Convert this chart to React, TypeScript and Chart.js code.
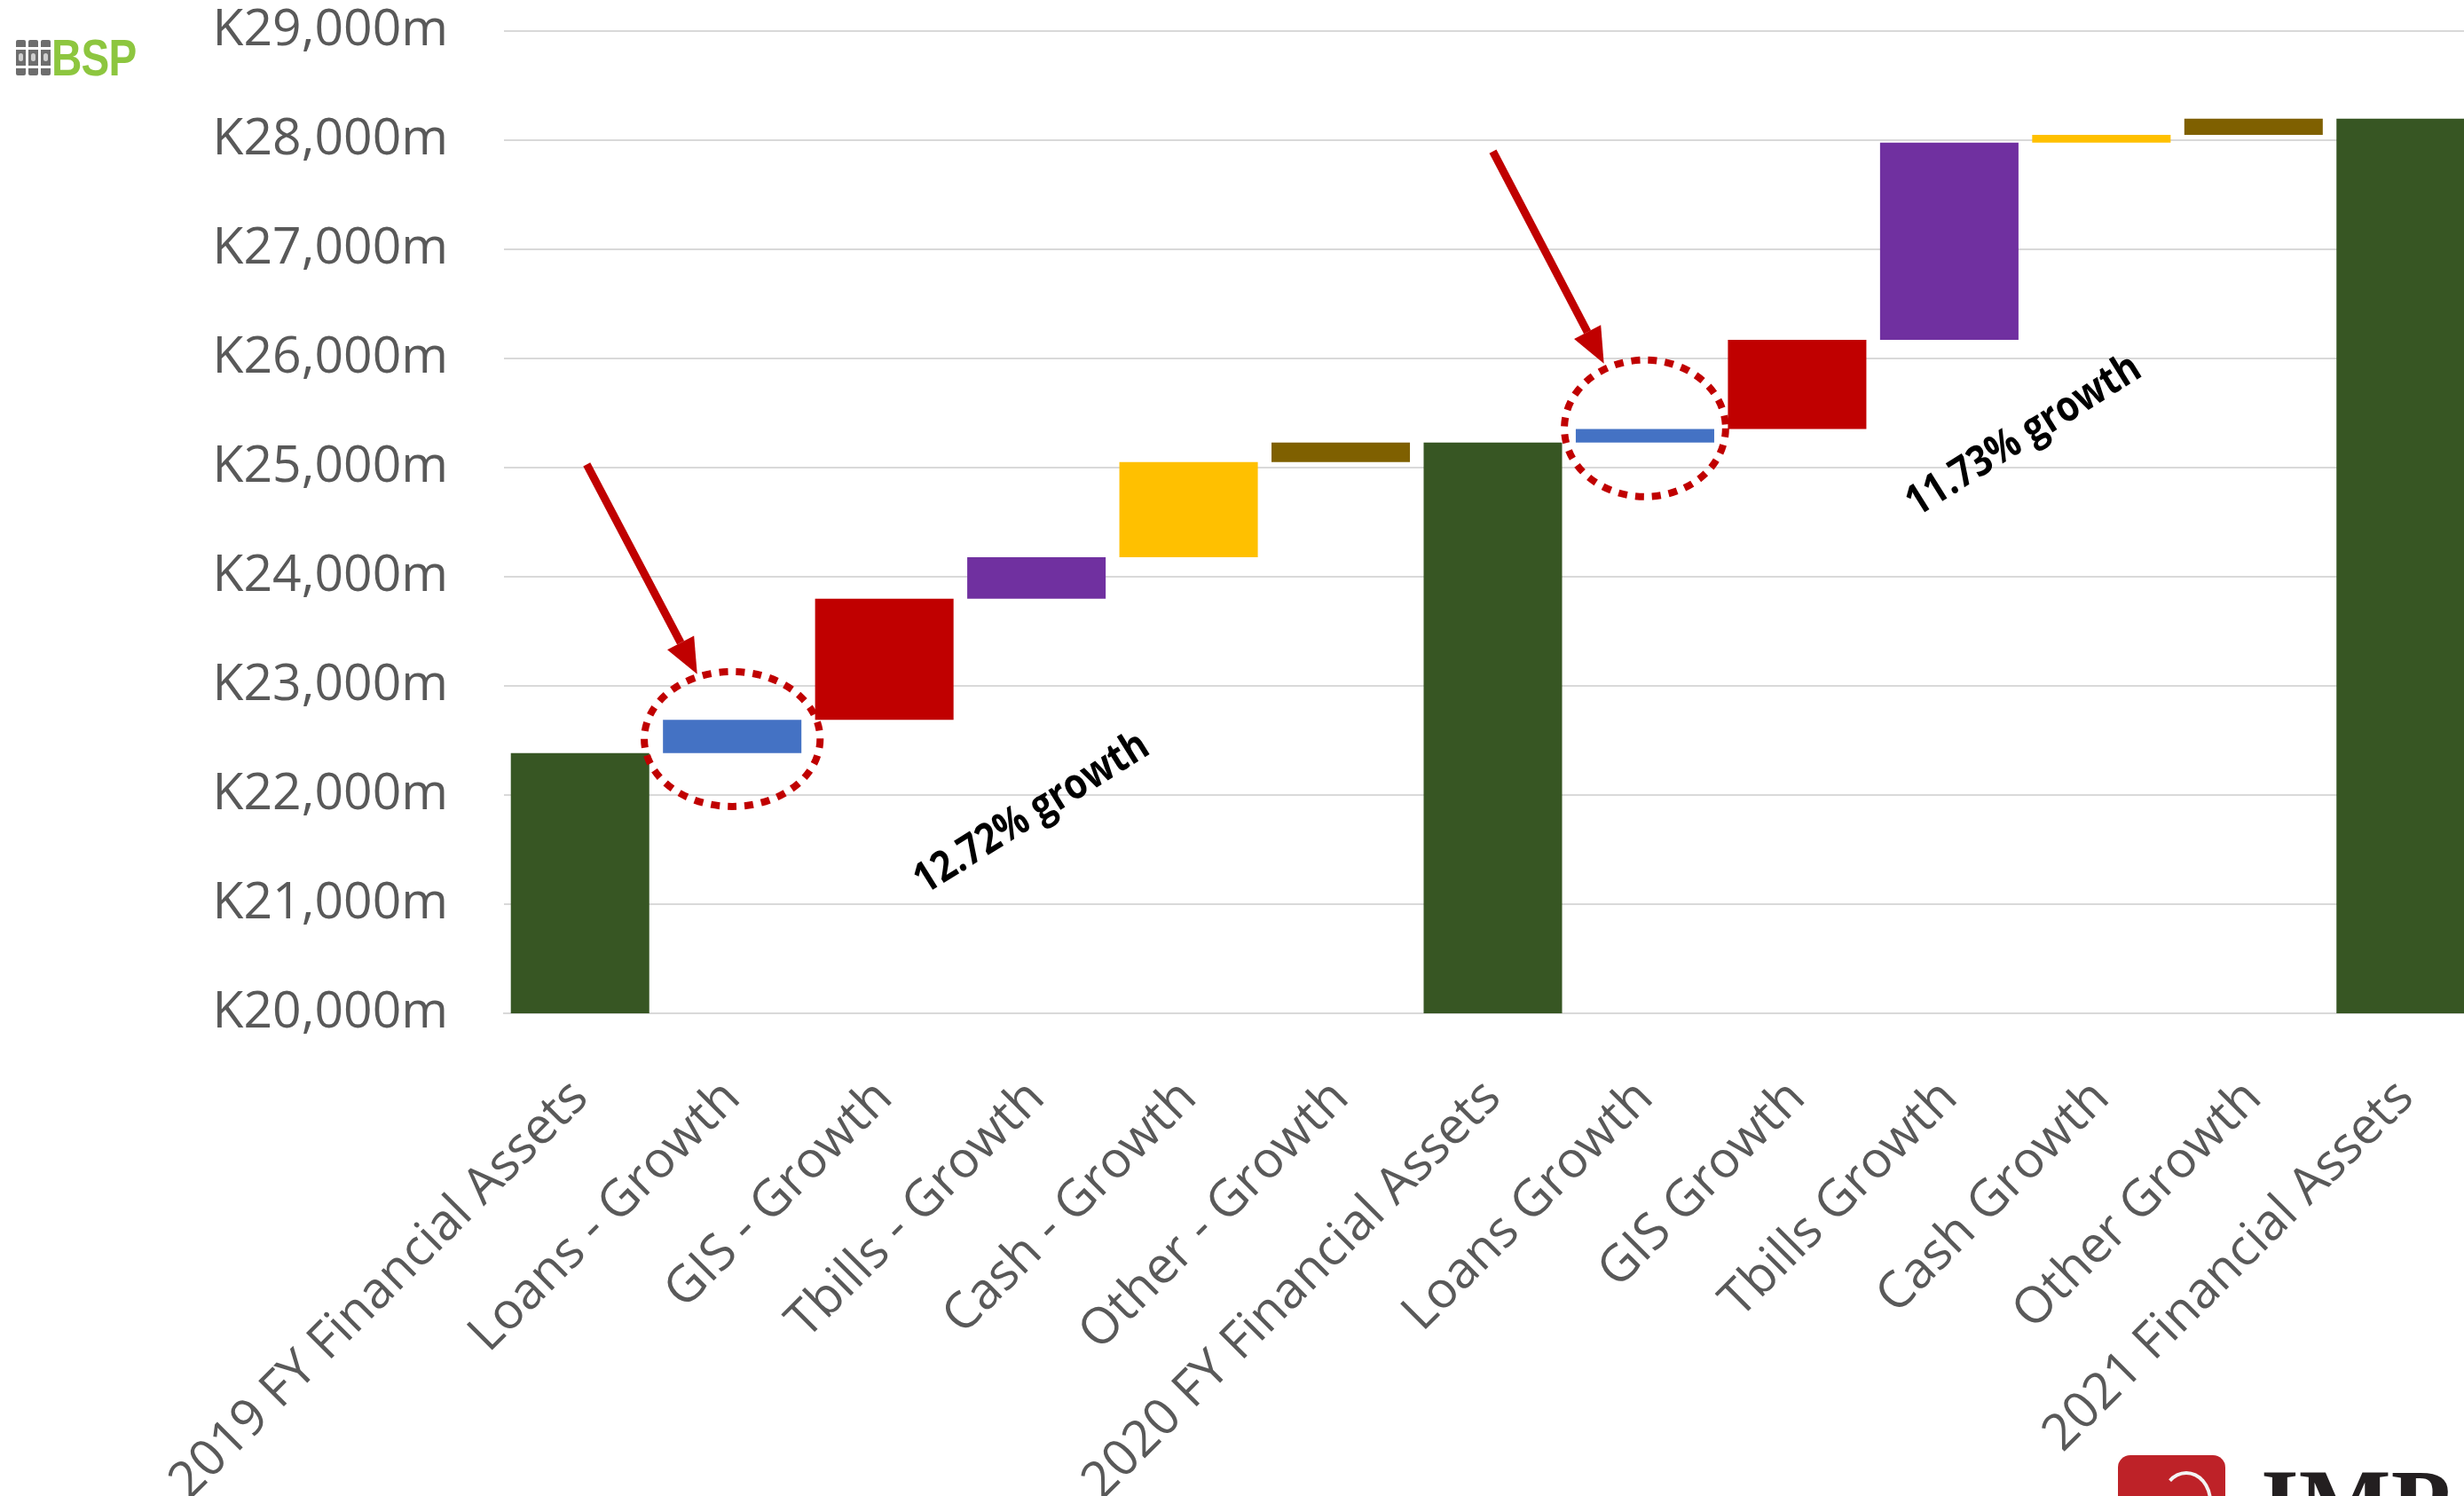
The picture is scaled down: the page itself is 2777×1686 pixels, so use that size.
import React, { useEffect, useRef } from "react";
import { Chart, registerables } from "chart.js";

Chart.register(...registerables);

// ---------------- data ----------------
const categories = [
  "2019 FY Financial Assets",
  "Loans - Growth",
  "GIS - Growth",
  "Tbills - Growth",
  "Cash - Growth",
  "Other - Growth",
  "2020 FY Financial Assets",
  "Loans Growth",
  "GIS Growth",
  "Tbills Growth",
  "Cash Growth",
  "Other Growth",
  "2021 Financial Assets",
];

// Values in K millions. Totals are flagged and computed as running sums.
const openingAssets = 22385;
const changes = [0, 305, 1109, 379, 873, 178, 0, 125, 816, 1807, 72, 149, 0];
const isTotal = [true, false, false, false, false, false, true, false, false, false, false, false, true];

const barColors = [
  "#375623", "#4472C4", "#C00000", "#7030A0", "#FFC000", "#7F6000",
  "#375623", "#4472C4", "#C00000", "#7030A0", "#FFC000", "#7F6000",
  "#375623",
];

const yMin = 20000;
const yMax = 29000;
const yStep = 1000;

const growthLabels = ["12.72% growth", "11.73% growth"];

// annotation anchors in data units (category index, value)
const growthLabelAnchors = [
  { x: 2.97, y: 21830 },
  { x: 9.49, y: 25290 },
];
const highlightEllipses = [
  { cx: 1, cy: 22513, rx: 0.578, ry: 618 },
  { cx: 7, cy: 25360, rx: 0.53, ry: 626 },
];
const arrows = [
  { x0: 0.044, y0: 25029, x1: 0.77, y1: 23107 },
  { x0: 6.0, y0: 27898, x1: 6.73, y1: 25954 },
];

// -------------- build floating bars --------------
function buildRanges(): [number, number][] {
  const out: [number, number][] = [];
  let running = openingAssets;
  for (let i = 0; i < categories.length; i++) {
    if (isTotal[i]) {
      out.push([0, running]);
    } else {
      out.push([running, running + changes[i]]);
      running += changes[i];
    }
  }
  return out;
}

const annotationPlugin = {
  id: "growthAnnotations",
  afterDatasetsDraw(chart: any) {
    const { ctx } = chart;
    const x = chart.scales.x;
    const y = chart.scales.y;
    ctx.save();

    // dotted ellipses
    for (const e of highlightEllipses) {
      const cx = x.getPixelForValue(e.cx);
      const cy = y.getPixelForValue(e.cy);
      const rx = Math.abs(x.getPixelForValue(e.cx + e.rx) - cx);
      const ry = Math.abs(y.getPixelForValue(e.cy + e.ry) - cy);
      ctx.beginPath();
      ctx.ellipse(cx, cy, rx, ry, 0, 0, Math.PI * 2);
      ctx.setLineDash([10, 9]);
      ctx.lineWidth = 8;
      ctx.strokeStyle = "#C00000";
      ctx.stroke();
    }
    ctx.setLineDash([]);

    // arrows
    for (const a of arrows) {
      const px0 = x.getPixelForValue(a.x0);
      const py0 = y.getPixelForValue(a.y0);
      const px1 = x.getPixelForValue(a.x1);
      const py1 = y.getPixelForValue(a.y1);
      const ang = Math.atan2(py1 - py0, px1 - px0);
      const headLen = 40;
      const headHalf = 17;
      const bx = px1 - headLen * Math.cos(ang);
      const by = py1 - headLen * Math.sin(ang);
      ctx.beginPath();
      ctx.moveTo(px0, py0);
      ctx.lineTo(bx, by);
      ctx.lineWidth = 9;
      ctx.strokeStyle = "#C00000";
      ctx.lineCap = "butt";
      ctx.stroke();
      ctx.beginPath();
      ctx.moveTo(px1, py1);
      ctx.lineTo(bx + headHalf * Math.sin(ang), by - headHalf * Math.cos(ang));
      ctx.lineTo(bx - headHalf * Math.sin(ang), by + headHalf * Math.cos(ang));
      ctx.closePath();
      ctx.fillStyle = "#C00000";
      ctx.fill();
    }

    // rotated growth labels
    growthLabels.forEach((label, i) => {
      const p = growthLabelAnchors[i];
      const px = x.getPixelForValue(p.x);
      const py = y.getPixelForValue(p.y);
      ctx.save();
      ctx.translate(px, py);
      ctx.rotate((-32 * Math.PI) / 180);
      ctx.scale(0.86, 1);
      ctx.font = "bold 48px 'Open Sans'";
      ctx.fillStyle = "#000000";
      ctx.textAlign = "center";
      ctx.textBaseline = "middle";
      ctx.fillText(label, 0, 0);
      ctx.restore();
    });

    ctx.restore();
  },
};

export default function App() {
  const canvasRef = useRef<HTMLCanvasElement | null>(null);

  useEffect(() => {
    if (!canvasRef.current) return;
    const ranges = buildRanges();
    const chart = new Chart(canvasRef.current, {
      type: "bar",
      data: {
        labels: categories,
        datasets: [
          {
            data: ranges as any,
            backgroundColor: barColors,
            borderWidth: 0,
            barPercentage: 0.91,
            categoryPercentage: 1.0,
          },
        ],
      },
      options: {
        responsive: false,
        animation: false,
        layout: { padding: { top: 35, right: 3, left: 0, bottom: 0 } },
        plugins: {
          legend: { display: false },
          tooltip: { enabled: false },
        },
        scales: {
          x: {
            grid: {
              display: true,
              drawOnChartArea: false,
              drawTicks: true,
              tickLength: 62,
              color: "transparent",
              tickColor: "transparent",
            },
            border: { display: true, color: "#d9d9d9", width: 2 },
            ticks: {
              autoSkip: false,
              minRotation: 45,
              maxRotation: 45,
              padding: 0,
              color: "#595959",
              font: { family: "'Open Sans'", size: 57 },
            },
            afterFit(scale: any) {
              scale.height = 544;
            },
          },
          y: {
            min: yMin,
            max: yMax,
            grid: {
              color: "#d9d9d9",
              lineWidth: 2,
              drawTicks: true,
              tickLength: 63,
              tickColor: "transparent",
            },
            border: { display: false },
            ticks: {
              stepSize: yStep,
              padding: 0,
              color: "#595959",
              font: { family: "'Open Sans'", size: 57 },
              callback: (v: any) => "K" + Number(v).toLocaleString("en-US") + "m",
            },
            afterFit(scale: any) {
              scale.width = 568;
            },
          },
        },
      },
      plugins: [annotationPlugin],
    });
    return () => chart.destroy();
  }, []);

  const drum = (left: number) => (
    <div
      style={{
        position: "absolute",
        left,
        top: 45,
        width: 11,
        height: 40,
        background: "#6d6d6d",
        borderRadius: 2,
      }}
    >
      <div style={{ position: "absolute", left: 0, right: 0, top: 8, height: 3, background: "#fff" }} />
      <div style={{ position: "absolute", left: 0, right: 0, top: 29, height: 3, background: "#fff" }} />
      <div style={{ position: "absolute", left: 3, width: 5, top: 15, height: 9, background: "#cfcfcf", borderRadius: 3 }} />
    </div>
  );

  return (
    <div
      style={{
        position: "absolute",
        left: 0,
        top: 0,
        width: 2777,
        height: 1686,
        overflow: "hidden",
        background: "#ffffff",
      }}
    >
      <canvas ref={canvasRef} width={2800} height={1686} style={{ position: "absolute", left: 0, top: 0, width: 2800, height: 1686 }} />
      {drum(18)}
      {drum(32)}
      {drum(46)}
      <div
        style={{
          position: "absolute",
          left: 58,
          top: 32,
          fontFamily: "'Liberation Sans', Arial, sans-serif",
          fontWeight: "bold",
          fontSize: 58,
          lineHeight: "66px",
          color: "#8DC63F",
          transform: "scaleX(0.82)",
          transformOrigin: "left top",
          letterSpacing: -1,
        }}
      >
        BSP
      </div>
      <div
        style={{
          position: "absolute",
          left: 2387,
          top: 1640,
          width: 121,
          height: 80,
          background: "#BE2228",
          borderRadius: 14,
          overflow: "hidden",
        }}
      >
        <div
          style={{
            position: "absolute",
            left: 48,
            top: 18,
            width: 50,
            height: 60,
            border: "4px solid #f4f4f4",
            borderRadius: "50%",
            borderBottomColor: "transparent",
            borderLeftColor: "transparent",
          }}
        />
      </div>
      <div
        style={{
          position: "absolute",
          left: 2548,
          top: 1640,
          fontFamily: "'Liberation Serif', serif",
          fontWeight: "bold",
          fontSize: 110,
          lineHeight: "110px",
          color: "#231f20",
          whiteSpace: "nowrap",
        }}
      >
        IMP
      </div>
    </div>
  );
}
